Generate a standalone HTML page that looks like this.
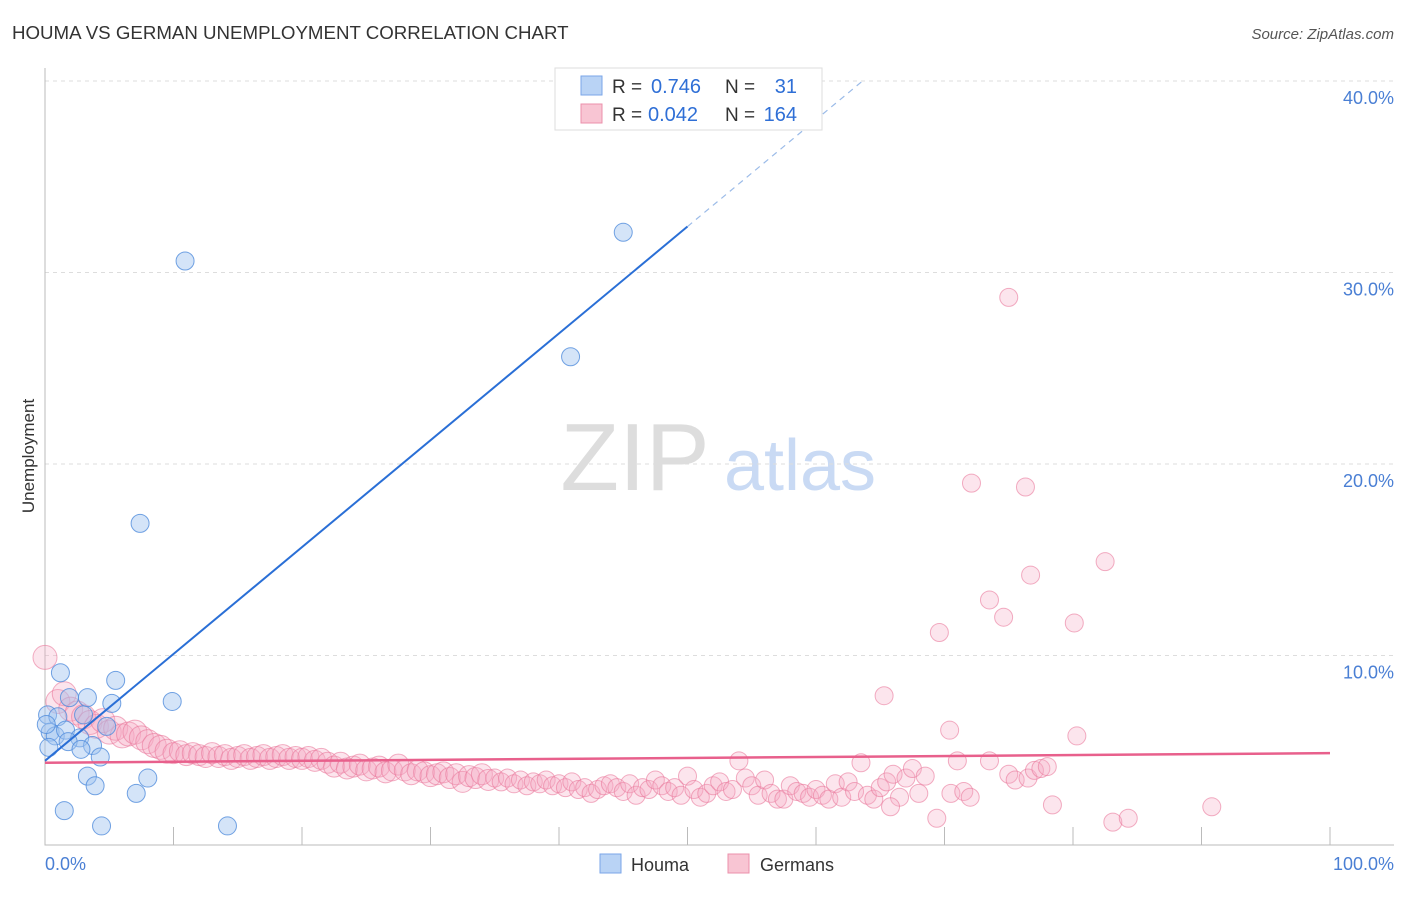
<!DOCTYPE html>
<html><head><meta charset="utf-8"><style>
body{margin:0;background:#fff;font-family:"Liberation Sans",sans-serif;}
svg text{font-family:"Liberation Sans",sans-serif;}
</style></head><body>
<svg id="chart" width="1406" height="892" viewBox="0 0 1406 892">
<text x="12" y="39" font-size="18.7" fill="#333">HOUMA VS GERMAN UNEMPLOYMENT CORRELATION CHART</text>
<text x="1394" y="39" font-size="15" fill="#555" font-style="italic" text-anchor="end">Source: ZipAtlas.com</text>
<g>
<text x="635" y="490" font-size="96" fill="#ddd" font-family="Liberation Serif,serif" text-anchor="middle">ZIP</text>
<text x="800" y="490" font-size="72" fill="#c9daf4" text-anchor="middle">atlas</text>
</g>
<g id="grid"></g>
<g id="axes"></g>
<g id="pink"></g>
<g id="blue"></g>
<g id="lines"></g>
<text transform="translate(34,456) rotate(-90)" font-size="17" fill="#333" text-anchor="middle">Unemployment</text>
<text x="45" y="870" font-size="18" fill="#4a7fd4">0.0%</text>
<text x="1394" y="870" font-size="18" fill="#4a7fd4" text-anchor="end">100.0%</text>
<g>
<rect x="555" y="68" width="267" height="62" fill="#fff" stroke="#ddd"/>
<rect x="581" y="76" width="21" height="19" fill="#b9d3f5" stroke="#7aa6e8"/>
<rect x="581" y="104" width="21" height="19" fill="#f8c5d3" stroke="#eb90ab"/>
<text x="612" y="93" font-size="19" fill="#333">R =</text>
<text x="651" y="93" font-size="20" fill="#2f6fd6">0.746</text>
<text x="725" y="93" font-size="19" fill="#333">N =</text>
<text x="797" y="93" font-size="20" fill="#2f6fd6" text-anchor="end">31</text>
<text x="612" y="121" font-size="19" fill="#333">R =</text>
<text x="648" y="121" font-size="20" fill="#2f6fd6">0.042</text>
<text x="725" y="121" font-size="19" fill="#333">N =</text>
<text x="797" y="121" font-size="20" fill="#2f6fd6" text-anchor="end">164</text>
</g>
<g>
<rect x="600" y="854" width="21" height="19" fill="#b9d3f5" stroke="#7aa6e8"/>
<text x="631" y="871" font-size="18" fill="#333">Houma</text>
<rect x="728" y="854" width="21" height="19" fill="#f8c5d3" stroke="#eb90ab"/>
<text x="760" y="871" font-size="18" fill="#333">Germans</text>
</g>
</svg>
<script>
const yTicks=[10,20,30,40];
const yTickLabels=["10.0%","20.0%","30.0%","40.0%"];
const xTicks=[10,20,30,40,50,60,70,80,90,100];
const blueX=[10.9,45.0,40.9,7.4,1.2,5.5,9.9,5.2,3.3,1.9,0.2,1.0,3.0,4.8,0.4,0.8,1.6,2.7,1.8,3.7,2.8,4.3,0.3,3.3,3.9,8.0,7.1,1.5,4.4,14.2,0.1];
const blueY=[30.6,32.1,25.6,16.9,9.1,8.7,7.6,7.5,7.8,7.8,6.9,6.8,6.9,6.3,6.0,5.8,6.1,5.7,5.5,5.3,5.1,4.7,5.2,3.7,3.2,3.6,2.8,1.9,1.1,1.1,6.4];
const pinkX=[0,1,1.5,2,2.5,3,3.5,4,4.5,5,5.5,6,6.5,7,7.5,8,8.5,9,9.5,10,10.5,11,11.5,12,12.5,13,13.5,14,14.5,15,15.5,16,16.5,17,17.5,18,18.5,19,19.5,20,20.5,21,21.5,22,22.5,23,23.5,24,24.5,25,25.5,26,26.5,27,27.5,28,28.5,29,29.5,30,30.5,31,31.5,32,32.5,33,33.5,34,34.5,35,35.5,36,36.5,37,37.5,38,38.5,39,39.5,40,40.5,41,41.5,42,42.5,43,43.5,44,44.5,45,45.5,46,46.5,47,47.5,48,48.5,49,49.5,50,50.5,51,51.5,52,52.5,53,53.5,54,54.5,55,55.5,56,56.5,57,57.5,58,58.5,59,59.5,60,60.5,61,61.5,62,62.5,63,63.5,64,64.5,65,65.5,66,66.5,67,67.5,68,68.5,70.5,71,71.5,72,73.5,75,75.5,76.5,77,77.5,78,75.0,72.1,76.3,82.5,76.7,73.5,74.6,80.1,69.6,65.3,70.4,80.3,90.8,83.1,84.3,69.4,65.8,78.4];
const pinkY=[9.9,7.6,8.0,7.2,7.0,6.8,6.5,6.3,6.6,6.0,6.2,5.8,5.9,6.0,5.7,5.5,5.3,5.2,5.0,4.9,5.0,4.8,4.9,4.8,4.7,4.9,4.7,4.8,4.6,4.7,4.8,4.6,4.7,4.8,4.6,4.7,4.8,4.6,4.7,4.6,4.7,4.5,4.6,4.4,4.2,4.4,4.1,4.2,4.3,4.0,4.1,4.2,3.9,4.0,4.3,4.0,3.8,4.0,3.9,3.7,3.8,3.9,3.6,3.8,3.4,3.7,3.6,3.8,3.5,3.6,3.4,3.6,3.3,3.5,3.2,3.4,3.3,3.5,3.2,3.3,3.1,3.4,3.0,3.1,2.8,3.0,3.2,3.3,3.1,2.9,3.3,2.7,3.1,3.0,3.5,3.2,2.9,3.1,2.7,3.7,3.0,2.6,2.8,3.2,3.4,2.9,3.0,4.5,3.6,3.2,2.7,3.5,2.8,2.5,2.5,3.2,2.9,2.8,2.6,3.0,2.7,2.5,3.3,2.6,3.4,2.9,4.4,2.7,2.5,3.1,3.4,3.8,2.6,3.6,4.1,2.8,3.7,2.8,4.5,2.9,2.6,4.5,3.8,3.5,3.6,4.0,4.1,4.2,28.7,19.0,18.8,14.9,14.2,12.9,12.0,11.7,11.2,7.9,6.1,5.8,2.1,1.3,1.5,1.5,2.1,2.2];
const blueFit=[4.5,0.558];
const pinkFit=[4.4,0.005];
const NS='http://www.w3.org/2000/svg';
function sx(v){return 45+v*12.85;}
function sy(v){return 847-v*19.15;}
function mk(t,a,p){const e=document.createElementNS(NS,t);for(const k in a)e.setAttribute(k,a[k]);p.appendChild(e);return e;}
const grid=document.getElementById('grid'),axes=document.getElementById('axes');
yTicks.forEach((t,i)=>{
 const l=mk('line',{x1:45,x2:1394,y1:sy(t),y2:sy(t),stroke:'#ddd','stroke-dasharray':'4,4'},grid);
 
 
 const tx=mk('text',{x:1394,y:sy(t)+23,'font-size':18,fill:'#4a7fd4','text-anchor':'end'},grid);
 tx.textContent=yTickLabels[i];
 
 
});
const ax=mk('path',{d:'M45 68 V845 H1394',stroke:'#bbb',fill:'none'},axes);


xTicks.forEach(t=>{
 const l=mk('line',{x1:sx(t),x2:sx(t),y1:827,y2:845,stroke:'#bbb'},axes);
 
 
});
const pg=document.getElementById('pink');
pinkX.forEach((x,i)=>{
 const r=x<10?12:(x<35?10.5:9);
 const c=mk('circle',{cx:sx(x),cy:sy(pinkY[i]),r:r,fill:'rgba(246,170,195,0.3)',stroke:'rgba(234,120,155,0.6)','stroke-width':1},pg);
 
 
});
const bg=document.getElementById('blue');
blueX.forEach((x,i)=>{
 const c=mk('circle',{cx:sx(x),cy:sy(blueY[i]),r:9,fill:'rgba(160,196,240,0.45)',stroke:'rgba(80,140,220,0.8)','stroke-width':1},bg);
 
 
});
const lg=document.getElementById('lines');
const b1=mk('line',{x1:sx(0),y1:sy(blueFit[0]),x2:sx(50),y2:sy(blueFit[0]+blueFit[1]*50),stroke:'#2a6fd6','stroke-width':2},lg);


const b2=mk('line',{x1:sx(50),y1:sy(blueFit[0]+blueFit[1]*50),x2:sx(63.6),y2:sy(blueFit[0]+blueFit[1]*63.6),stroke:'#9bbbe8','stroke-width':1.2,'stroke-dasharray':'6,5'},lg);


const p1=mk('line',{x1:sx(0),y1:sy(pinkFit[0]),x2:sx(100),y2:sy(pinkFit[0]+pinkFit[1]*100),stroke:'#e8608c','stroke-width':2.5},lg);


</script>
</body></html>
